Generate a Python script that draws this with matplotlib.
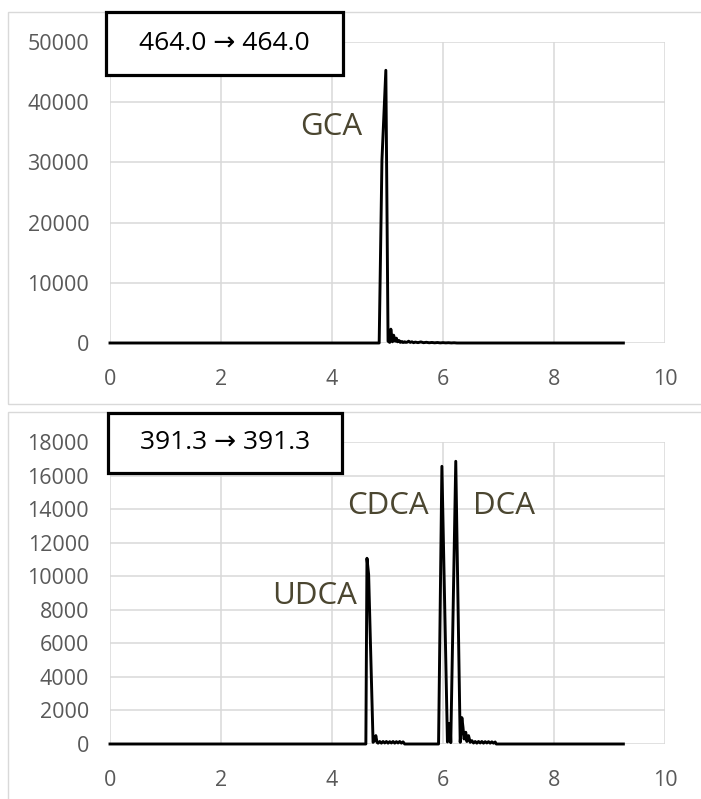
import matplotlib
matplotlib.use("Agg")
import matplotlib.pyplot as plt
from matplotlib.patches import Rectangle

plt.rcParams["font.family"] = ["Open Sans", "DejaVu Sans"]

# Transition 464.0 -> 464.0 (retention time in min, intensity in counts)
t_464 = [0.0, 4.85, 4.90, 4.97, 5.01, 5.04, 5.06, 5.09, 5.11, 5.14, 5.16, 5.18,
         5.21, 5.23, 5.26, 5.28, 5.31, 5.33, 5.36, 5.38, 5.41, 5.44, 5.47, 5.50,
         5.55, 5.60, 5.65, 5.70, 5.75, 5.80, 5.85, 5.90, 5.95, 6.00, 6.05, 6.10,
         6.15, 6.20, 6.25, 9.25]
i_464 = [0, 0, 30400, 45300, 300, 100, 2300, 200, 1300, 300, 800, 200,
         400, 100, 250, 80, 200, 100, 150, 300, 100, 200, 50, 150,
         60, 180, 50, 120, 40, 90, 30, 80, 20, 60, 20, 50,
         10, 40, 0, 0]

# Transition 391.3 -> 391.3
t_391 = [0.0, 4.61, 4.63, 4.66, 4.74, 4.76, 4.79, 4.81, 4.83, 4.86, 4.89, 4.92,
         4.95, 4.98, 5.01, 5.04, 5.07, 5.10, 5.13, 5.16, 5.19, 5.22, 5.25, 5.28,
         5.31, 5.92, 5.98, 6.08, 6.11, 6.13, 6.14, 6.23, 6.31, 6.34, 6.36, 6.38,
         6.41, 6.43, 6.46, 6.49, 6.52, 6.55, 6.58, 6.61, 6.64, 6.67, 6.70, 6.73,
         6.76, 6.79, 6.82, 6.85, 6.88, 6.91, 6.94, 6.96, 9.25]
i_391 = [0, 0, 11070, 10100, 100, 200, 500, 100, 50, 150, 50, 150,
         60, 150, 50, 140, 60, 150, 50, 140, 60, 150, 50, 130,
         0, 0, 16550, 120, 1230, 1100, 80, 16850, 100, 1570, 1000, 300,
         700, 150, 500, 100, 200, 60, 150, 50, 150, 60, 150, 50,
         140, 60, 140, 50, 130, 50, 120, 0, 0]

panels = [
    dict(t=t_464, y=i_464, ymax=50000, ystep=10000, title="464.0 \u2192 464.0",
         peaks=["GCA"], peak_x=[3.98], peak_y=[35900]),
    dict(t=t_391, y=i_391, ymax=18000, ystep=2000, title="391.3 \u2192 391.3",
         peaks=["UDCA", "CDCA", "DCA"], peak_x=[3.68, 5.01, 7.10],
         peak_y=[8820, 14180, 14180]),
]

W, H = 701, 799
fig = plt.figure(figsize=(W / 100, H / 100), dpi=100)

# axes rectangles / outer chart frames / title boxes, in pixels (top-left origin)
ax_px = [(110, 42, 665, 343), (110, 442, 665, 744)]
frame_px = [(8, 12, 710, 404), (8, 412, 710, 810)]
box_px = [(106, 12, 343, 75), (108, 413, 342, 473)]

grid_c = "#d9d9d9"
label_c = "#4b4630"
tick_c = "#595959"

for p, (x0, y0, x1, y1), fr, bx in zip(panels, ax_px, frame_px, box_px):
    # light chart-area frame
    fig.patches.append(Rectangle((fr[0] / W, 1 - fr[3] / H), (fr[2] - fr[0]) / W,
                                 (fr[3] - fr[1]) / H, transform=fig.transFigure,
                                 fill=False, edgecolor=grid_c, lw=1.0, zorder=0.5))

    ax = fig.add_axes([x0 / W, 1 - y1 / H, (x1 - x0) / W, (y1 - y0) / H])
    ax.plot(p["t"], p["y"], color="black", lw=2.1, clip_on=False, zorder=3)
    ax.set_xlim(0, 10)
    ax.set_ylim(0, p["ymax"])
    ax.set_xticks(range(0, 11, 2))
    ax.set_yticks(range(0, p["ymax"] + 1, p["ystep"]))
    ax.grid(True, color=grid_c, lw=1.1)
    ax.set_axisbelow(True)
    for s in ax.spines.values():
        s.set_visible(False)
    ax.tick_params(length=0, labelsize=15.5, labelcolor=tick_c)
    ax.tick_params(axis="y", pad=15)
    ax.tick_params(axis="x", pad=18.5)

    for name, px, py in zip(p["peaks"], p["peak_x"], p["peak_y"]):
        ax.text(px, py, name, fontsize=22.5, color=label_c,
                ha="center", va="center", zorder=4)

    # transition label box
    fig.patches.append(Rectangle((bx[0] / W, 1 - bx[3] / H), (bx[2] - bx[0]) / W,
                                 (bx[3] - bx[1]) / H, transform=fig.transFigure,
                                 facecolor="white", edgecolor="black", lw=2.3, zorder=5))
    fig.text((bx[0] + bx[2]) / 2 / W, 1 - (bx[1] + bx[3]) / 2 / H, p["title"],
             fontsize=19, color="black", ha="center", va="center", zorder=6)

fig.savefig("out.png", dpi=100)
